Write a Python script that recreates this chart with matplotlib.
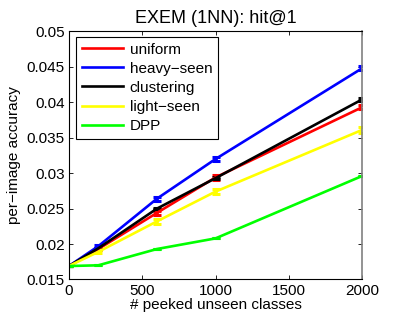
import matplotlib
matplotlib.use("Agg")
import matplotlib.pyplot as plt

plt.rcParams.update({
    "font.family": ["Liberation Sans", "DejaVu Sans"],
    "font.size": 11,
})

# ── data ──────────────────────────────────────────────────────────────────────
peeked = [0, 200, 600, 1000, 2000]

uniform     = [0.0169, 0.0193, 0.0244, 0.0294, 0.0393]
heavy_seen  = [0.0169, 0.0197, 0.0264, 0.0320, 0.0448]
clustering  = [0.0169, 0.0194, 0.0250, 0.0293, 0.0404]
light_seen  = [0.0169, 0.0189, 0.0232, 0.0274, 0.0361]
dpp         = [0.0169, 0.0170, 0.0193, 0.0208, 0.0296]

uniform_err    = [0, 0.0002, 0.0003, 0.0003, 0.0003]
heavy_err      = [0, 0.0002, 0.0003, 0.0003, 0.0003]
clustering_err = [0, 0.0001, 0.0001, 0.0001, 0.0002]
light_err      = [0, 0.0002, 0.0003, 0.0004, 0.0004]
dpp_err        = [0, 0, 0, 0, 0]

SERIES = [
    ("uniform",     uniform,    uniform_err,    "#FF0000"),
    ("heavy\u2212seen", heavy_seen, heavy_err,  "#0000FF"),
    ("clustering",  clustering, clustering_err, "#000000"),
    ("light\u2212seen", light_seen, light_err,  "#FFFF00"),
    ("DPP",         dpp,        dpp_err,        "#00FF00"),
]

x_ticks = [0, 500, 1000, 1500, 2000]
y_ticks = [0.015, 0.02, 0.025, 0.03, 0.035, 0.04, 0.045, 0.05]
y_ticklabels = ["0.015", "0.02", "0.025", "0.03", "0.035", "0.04", "0.045", "0.05"]

# ── plot ──────────────────────────────────────────────────────────────────────
fig = plt.figure(figsize=(4, 3.2), dpi=100)
ax = fig.add_axes([0.1725, 0.1266, 0.7325, 0.775])

for name, vals, err, color in SERIES:
    ax.errorbar(peeked, vals, yerr=err, color=color, linewidth=1.9,
                elinewidth=1.9, capsize=3, capthick=2.2, label=name)

ax.set_xlim(0, 2000)
ax.set_ylim(0.015, 0.05)
ax.set_xticks(x_ticks)
ax.set_yticks(y_ticks)
ax.set_yticklabels(y_ticklabels)
ax.tick_params(direction="in", top=True, right=True, length=3, width=0.6, pad=3)
for side in ["left", "bottom", "top"]:
    ax.spines[side].set_linewidth(0.8)
ax.spines["right"].set_color("#808080")
ax.spines["right"].set_linewidth(1.2)

ax.set_title("EXEM (1NN): hit@1", fontsize=13, pad=6)
ax.set_xlabel("# peeked unseen classes", labelpad=0)
ax.set_ylabel("per\u2212image accuracy", labelpad=4)

handles, labels = ax.get_legend_handles_labels()
handles = [h[0] for h in handles]
leg = ax.legend(handles, labels, loc="upper left", bbox_to_anchor=(0.0229, 0.978),
                borderaxespad=0, fancybox=False, framealpha=1, edgecolor="black",
                handlelength=2.7, handletextpad=0.45, labelspacing=0.33,
                borderpad=0.38, fontsize=11)
leg.get_frame().set_linewidth(0.8)

fig.savefig("out.png", dpi=100)
